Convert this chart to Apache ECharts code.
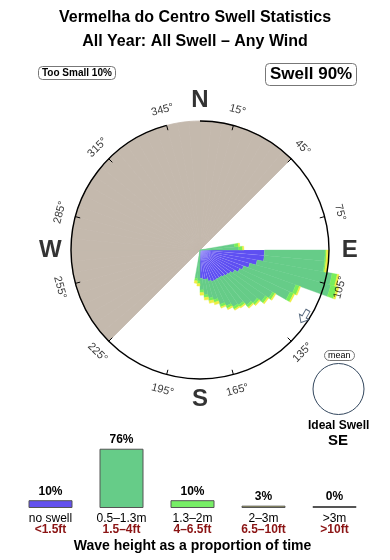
<!DOCTYPE html>
<html>
<head>
<meta charset="utf-8">
<script src="https://cdn.jsdelivr.net/npm/echarts@6/dist/echarts.min.js"></script>
<style>
html,body{margin:0;padding:0;background:#fff;}
#c{width:390px;height:560px;}
</style>
</head>
<body>
<div id="c"></div>
<script>
// ---------- DATA ----------
const titleLines = ['Vermelha do Centro Swell Statistics', 'All Year: All Swell \u2013 Any Wind'];
const tooSmallText = 'Too Small 10%';
const swellText = 'Swell 90%';
const idealSwell = 'SE';

// direction bins (bearing where each 5° bin starts) and stacked lengths (circle = 100)
const dirBins   = [80, 85, 90, 95, 100, 105, 110, 115, 120, 125, 130, 135, 140, 145, 150, 155, 160, 165, 170, 175, 180, 185];
const noSwell   = [ 0,  0, 50, 50,  45,  40,  36,  34,  31,  29,  28,  27,  26,  26,  26,  26,  25,  23,  23,  22,   0,   0];
const h05to13   = [27, 30, 47, 47,  59,  65,  43,  43,  34,  33,  30,  29,  26,  25,  22,  19,  15,  15,  12,   9,  24,  22];
const h13to2    = [ 3,  3,  1,  1,   4,   5,   3,   3,   2,   2,   2,   2,   2,   2,   2,   2,   2,   2,   2,   2,   2,   2];
const h2to3     = [ 1,  1,  2,  2, 1.5, 1.5,   1,   1,   1,   1,   1,   1,   1,   1,   1,   1,   2,   2,   2,   2,   2,   2];

// land shadow sector (bearings, clockwise from -> to)
const shadowFrom = 225;
const shadowTo = 45;

// compass / tick labels
const tickBearings = [15, 45, 75, 105, 135, 165, 195, 225, 255, 285, 315, 345];
const tickLabels = ['15\u00b0','45\u00b0','75\u00b0','105\u00b0','135\u00b0','165\u00b0','195\u00b0','225\u00b0','255\u00b0','285\u00b0','315\u00b0','345\u00b0'];
const compassBearings = [0, 90, 180, 270];
const compassLabels = ['N', 'E', 'S', 'W'];

// mean direction marker
const meanArrowBin = 120;

// wave height distribution
const heightCats = ['no swell', '0.5\u20131.3m', '1.3\u20132m', '2\u20133m', '>3m'];
const feetCats = ['<1.5ft', '1.5\u20134ft', '4\u20136.5ft', '6.5\u201310ft', '>10ft'];
const heightPct = [10, 76, 10, 3, 0];

// ---------- CHART ----------
const FONT = '"Liberation Sans", Arial, Helvetica, sans-serif';
const roseColors = ['#5e4ff2', '#66cc88', '#78ee5a', '#eeee40'];
const legendColors = ['#6351ee', '#66cc88', '#77ee66', '#bdbd40', '#c9aaa6'];
const shadowColor = '#c4b9ad';

const bins = Array.from({length: 72}, (_, i) => String(i * 5));
const binData = vals => {
  const arr = bins.map(() => '-');
  dirBins.forEach((d, i) => { arr[d / 5] = vals[i] === 0 ? '-' : vals[i]; });
  return arr;
};
const shadowData = bins.map(b => {
  const v = +b;
  return (v >= shadowFrom || v < shadowTo) ? 100 : '-';
});
const polarBins15 = Array.from({length: 24}, (_, i) => String(i * 15));

function labelRotate(b) {
  let cw;
  if (b > 90 && b < 270) cw = b - 180;
  else if (b >= 270) cw = b - 360;
  else cw = b;
  return -cw;
}

const roseSeries = [noSwell, h05to13, h13to2, h2to3].map((vals, k) => ({
  type: 'bar',
  coordinateSystem: 'polar',
  polarIndex: 0,
  stack: 'rose',
  barCategoryGap: '0%',
  clip: false,
  silent: true,
  z: 3,
  data: binData(vals),
  itemStyle: {
    color: roseColors[k],
    borderColor: k === 0 ? 'rgba(255,255,255,0.12)' : roseColors[k],
    borderWidth: 0.4
  }
}));

const chart = echarts.init(document.getElementById('c'));
chart.setOption({
  animation: false,
  backgroundColor: '#fff',
  textStyle: {fontFamily: FONT},
  title: [
    {text: titleLines[0], left: 'center', top: 9, padding: 0,
     textStyle: {fontSize: 16, fontWeight: 'bold', color: '#000', fontFamily: FONT, lineHeight: 18}},
    {text: titleLines[1], left: 'center', top: 33, padding: 0,
     textStyle: {fontSize: 16, fontWeight: 'bold', color: '#000', fontFamily: FONT, lineHeight: 18}},
    {text: tooSmallText, left: 38, top: 66, padding: [2, 4, 2, 4], borderColor: '#777', borderWidth: 1, borderRadius: 4,
     textStyle: {fontSize: 10, fontWeight: 'bold', color: '#000', fontFamily: FONT, lineHeight: 10}},
    {text: swellText, left: 265, top: 63, padding: [2, 5, 2, 5], borderColor: '#777', borderWidth: 1, borderRadius: 4,
     textStyle: {fontSize: 17, fontWeight: 'bold', color: '#000', fontFamily: FONT, lineHeight: 19}},
    {text: 'mean', left: 324, top: 350, padding: [1, 4, 1, 4], borderColor: '#777', borderWidth: 1, borderRadius: 5,
     textStyle: {fontSize: 9, fontWeight: 'normal', color: '#000', fontFamily: FONT, lineHeight: 9}},
    {text: 'Ideal Swell', left: 308, top: 419, padding: 0,
     textStyle: {fontSize: 12, fontWeight: 'bold', color: '#000', fontFamily: FONT, lineHeight: 13}},
    {text: idealSwell, left: 328, top: 433, padding: 0,
     textStyle: {fontSize: 15, fontWeight: 'bold', color: '#000', fontFamily: FONT, lineHeight: 16}}
  ],
  polar: [
    {center: [200, 250], radius: 129},
    {center: [200, 250], radius: 129}
  ],
  angleAxis: [
    {polarIndex: 0, type: 'category', data: bins, startAngle: 90, clockwise: true, boundaryGap: true,
     axisLine: {show: false}, axisTick: {show: false}, axisLabel: {show: false}, splitLine: {show: false}},
    {polarIndex: 1, type: 'category', data: polarBins15, startAngle: 90, clockwise: true, boundaryGap: false, z: 10,
     axisLine: {show: true, lineStyle: {color: '#000', width: 1.4}},
     axisTick: {show: true, inside: true, length: 5, lineStyle: {color: '#000', width: 1},
                interval: (idx, val) => tickBearings.indexOf(+val) >= 0},
     axisLabel: {show: false}, splitLine: {show: false}}
  ],
  radiusAxis: [
    {polarIndex: 0, type: 'value', min: 0, max: 100, show: false,
     axisLine: {show: false}, axisTick: {show: false}, axisLabel: {show: false}, splitLine: {show: false}},
    {polarIndex: 1, type: 'value', min: 0, max: 100, show: false,
     axisLine: {show: false}, axisTick: {show: false}, axisLabel: {show: false}, splitLine: {show: false}}
  ],
  grid: {left: 15, top: 430, width: 355, height: 78},
  xAxis: {
    type: 'category', data: heightCats,
    axisLine: {show: false}, axisTick: {show: false},
    axisLabel: {
      interval: 0, margin: 5,
      formatter: (v, i) => '{a|' + v + '}\n{b|' + feetCats[i] + '}',
      rich: {
        a: {fontSize: 12, color: '#000', fontFamily: FONT, lineHeight: 11},
        b: {fontSize: 12, color: '#8b1414', fontWeight: 'bold', fontFamily: FONT, lineHeight: 11}
      }
    },
    name: 'Wave height as a proportion of time',
    nameLocation: 'middle', nameGap: 31,
    nameTextStyle: {fontSize: 14, fontWeight: 'bold', color: '#000', fontFamily: FONT}
  },
  yAxis: {type: 'value', min: 0, max: 100, show: false, splitLine: {show: false}},
  graphic: [
    {type: 'circle', shape: {cx: 338.5, cy: 389, r: 25.5}, style: {fill: 'none', stroke: '#33475e', lineWidth: 1}, silent: true}
  ],
  series: [
    {
      type: 'bar', coordinateSystem: 'polar', polarIndex: 0, stack: 'rose', barCategoryGap: '0%',
      clip: false, silent: true, z: 2,
      data: shadowData,
      itemStyle: {color: shadowColor, borderColor: shadowColor, borderWidth: 0.8}
    },
    ...roseSeries,
    {
      type: 'scatter', coordinateSystem: 'polar', polarIndex: 0, clip: false, silent: true, z: 12,
      symbol: 'path://M6,0 L12,7 L8.5,7 L8.5,15 L3.5,15 L3.5,7 L0,7 Z',
      symbolSize: [11, 14], symbolRotate: 150,
      itemStyle: {color: '#fff', borderColor: '#2f4660', borderWidth: 1},
      data: [[96, String(meanArrowBin)]]
    },
    {
      type: 'scatter', coordinateSystem: 'polar', polarIndex: 1, clip: false, silent: true, z: 12,
      symbolSize: 0,
      data: tickBearings.map((b, i) => ({
        value: [112.4, String(b)], name: tickLabels[i],
        label: {rotate: labelRotate(b)}
      })),
      label: {show: true, position: 'inside', formatter: p => p.name,
              fontSize: 11, color: '#000', fontFamily: FONT}
    },
    {
      type: 'scatter', coordinateSystem: 'polar', polarIndex: 1, clip: false, silent: true, z: 12,
      symbolSize: 0,
      data: compassBearings.map((b, i) => ({value: [116, String(b)], name: compassLabels[i]})),
      label: {show: true, position: 'inside', formatter: p => p.name,
              fontSize: 24, fontWeight: 'bold', color: '#000', fontFamily: FONT}
    },
    {
      type: 'bar', xAxisIndex: 0, yAxisIndex: 0, barWidth: 44, barMinHeight: 2, silent: true,
      data: heightPct.map((v, i) => ({value: v, itemStyle: {color: legendColors[i]}})),
      itemStyle: {borderColor: '#555', borderWidth: 1},
      label: {show: true, position: 'top', distance: 3, formatter: '{c}%',
              fontSize: 12, fontWeight: 'bold', color: '#000', fontFamily: FONT}
    }
  ]
});
</script>
</body>
</html>
